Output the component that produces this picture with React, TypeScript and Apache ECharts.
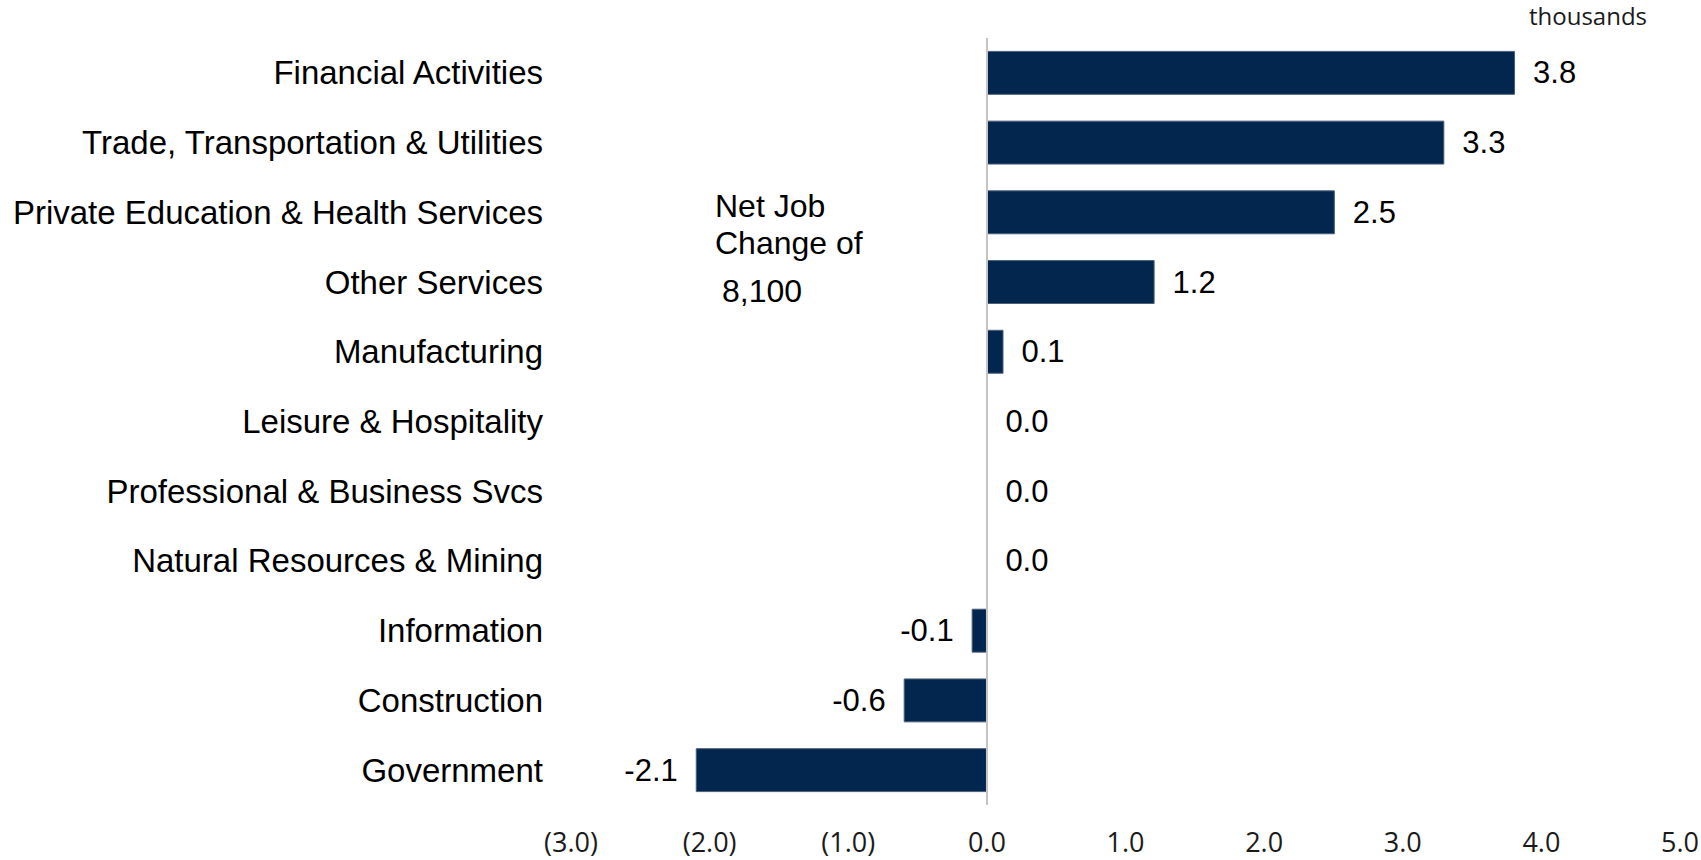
import React, { useEffect, useRef } from "react";
import * as echarts from "echarts";

const categories = [
  "Financial Activities",
  "Trade, Transportation & Utilities",
  "Private Education & Health Services",
  "Other Services",
  "Manufacturing",
  "Leisure & Hospitality",
  "Professional & Business Svcs",
  "Natural Resources & Mining",
  "Information",
  "Construction",
  "Government",
];

const values = [3.81, 3.3, 2.51, 1.21, 0.12, 0.0, 0.0, 0.0, -0.11, -0.6, -2.1];

const xMin = -3;
const xMax = 5;
const xInterval = 1;

const noteLines = ["Net Job", "Change of", "8,100"];
const unitLabel = "thousands";

export default function App() {
  const ref = useRef<HTMLDivElement>(null);

  useEffect(() => {
    if (!ref.current) return;
    const chart = echarts.init(ref.current, null, { renderer: "svg" });

    const data = values.map((v) => ({
      value: v,
      label: { position: v < 0 ? "left" : "right" },
    }));

    const textFont = "'Liberation Sans', Arial, sans-serif";

    const option = {
      animation: false,
      backgroundColor: "#ffffff",
      grid: {
        left: 571,
        width: 1109,
        top: 38,
        height: 767,
        containLabel: false,
        outerBoundsMode: "none",
      },
      xAxis: {
        type: "value",
        min: xMin,
        max: xMax,
        interval: xInterval,
        axisLine: { show: false },
        axisTick: { show: false },
        splitLine: { show: false },
        axisLabel: {
          margin: 23,
          fontFamily: "'Open Sans', sans-serif",
          fontSize: 27,
          lineHeight: 27,
          color: "#1a1a1a",
          formatter: (v: number) =>
            v < 0 ? `(${Math.abs(v).toFixed(1)})` : v.toFixed(1),
        },
      },
      yAxis: {
        type: "category",
        data: categories,
        inverse: true,
        axisLine: { show: false },
        axisTick: { show: false },
        splitLine: { show: false },
        axisLabel: {
          margin: 28,
          fontFamily: textFont,
          fontSize: 33,
          color: "#000000",
        },
      },
      series: [
        {
          type: "bar",
          data,
          barCategoryGap: "37%",
          itemStyle: {
            color: "#03264f",
            borderColor: "#4b5f7a",
            borderWidth: 1,
          },
          label: {
            show: true,
            distance: 18,
            fontFamily: textFont,
            fontSize: 31,
            color: "#000000",
            formatter: (p: any) => Number(p.value).toFixed(1),
          },
          markLine: {
            silent: true,
            symbol: ["none", "none"],
            label: { show: false },
            lineStyle: { color: "#c4c4c4", width: 2, type: "solid" },
            data: [{ xAxis: 0 }],
            z: 10,
          },
        },
      ],
      graphic: [
        {
          type: "text",
          x: 715,
          y: 206,
          style: {
            text: noteLines[0],
            font: `32px ${textFont}`,
            fill: "#000000",
            verticalAlign: "middle",
            align: "left",
          },
        },
        {
          type: "text",
          x: 715,
          y: 243,
          style: {
            text: noteLines[1],
            font: `32px ${textFont}`,
            fill: "#000000",
            verticalAlign: "middle",
            align: "left",
          },
        },
        {
          type: "text",
          x: 722,
          y: 291,
          style: {
            text: noteLines[2],
            font: `32px ${textFont}`,
            fill: "#000000",
            verticalAlign: "middle",
            align: "left",
          },
        },
        {
          type: "text",
          x: 1529,
          y: 15,
          style: {
            text: unitLabel,
            font: "24px 'Open Sans', sans-serif",
            fill: "#1a1a1a",
            verticalAlign: "middle",
            align: "left",
          },
        },
      ],
    };

    chart.setOption(option as any);
    return () => {
      chart.dispose();
    };
  }, []);

  return (
    <div
      ref={ref}
      style={{ position: "fixed", left: 0, top: 0, width: 1701, height: 860 }}
    />
  );
}
